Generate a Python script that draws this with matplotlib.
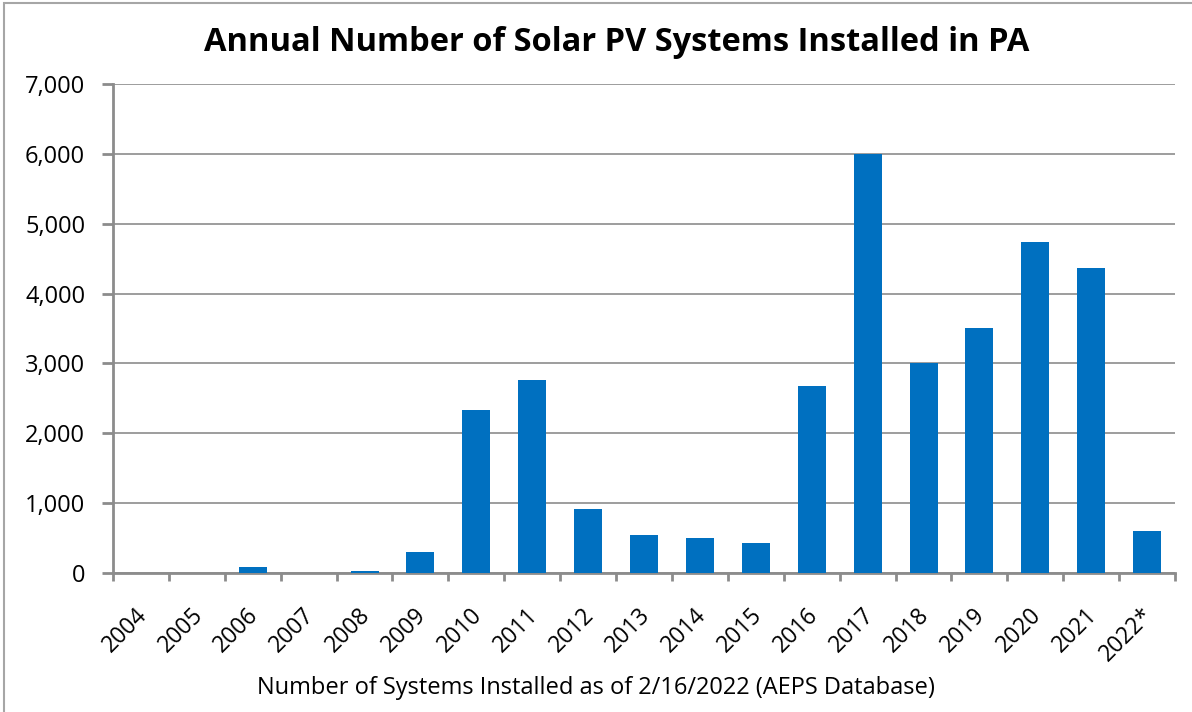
import numpy as np
import matplotlib.pyplot as plt
import matplotlib.transforms as mtransforms
from matplotlib.ticker import FuncFormatter
from matplotlib.patches import Rectangle

# annual solar PV installs in PA
years = ['2004', '2005', '2006', '2007', '2008', '2009', '2010', '2011', '2012', '2013',
         '2014', '2015', '2016', '2017', '2018', '2019', '2020', '2021', '2022*']
installs = [3, 2, 85, 4, 30, 300, 2330, 2760, 915, 545,
            500, 430, 2675, 5995, 3005, 3505, 4735, 4365, 600]

plt.rcParams['font.family'] = ['Open Sans', 'DejaVu Sans']

fig = plt.figure(figsize=(11.92, 7.12), dpi=100)
ax = fig.add_axes([0.0948, 0.1952, 0.891, 0.6868])

x = np.arange(len(years))
ax.bar(x, installs, width=0.5, color='#0070C0', zorder=3)

ax.set_xlim(-0.5, len(years) - 0.5)
ax.set_ylim(0, 7000)
ax.set_yticks(np.arange(0, 7001, 1000))
ax.yaxis.set_major_formatter(FuncFormatter(lambda v, p: f'{int(v):,}'))
ax.grid(axis='y', color='#8c8c8c', linewidth=1.2, zorder=0)

# category ticks sit between bars, labels under the bars
ax.set_xticks(np.arange(-0.5, len(years)), minor=False)
ax.set_xticklabels([])
ax.set_xticks(x, minor=True)
ax.set_xticklabels(years, minor=True, rotation=45, ha='right', va='top',
                   rotation_mode='anchor', fontsize=16.5)
ax.tick_params(axis='x', which='minor', length=0, pad=22)
ax.tick_params(axis='x', which='major', length=6, width=2, color='#8c8c8c', direction='out')
ax.tick_params(axis='y', length=8, width=2, color='#8c8c8c', labelsize=17, pad=12)

# nudge rotated labels a bit to the left
shift = mtransforms.ScaledTranslation(-6 / 100, 0, fig.dpi_scale_trans)
for lbl in ax.xaxis.get_minorticklabels():
    lbl.set_transform(lbl.get_transform() + shift)

for s in ['top', 'right']:
    ax.spines[s].set_visible(False)
for s in ['left', 'bottom']:
    ax.spines[s].set_color('#8c8c8c')
    ax.spines[s].set_linewidth(2)

fig.text(0.517, 0.941, 'Annual Number of Solar PV Systems Installed in PA', fontsize=23.5,
         fontweight='bold', ha='center', va='center')
fig.text(0.5, 0.0337, 'Number of Systems Installed as of 2/16/2022 (AEPS Database)',
         fontsize=17, ha='center', va='center')

fig.patches.append(Rectangle((0.0034, -0.01), 1.1, 1.006, transform=fig.transFigure,
                             fill=False, edgecolor='#a6a6a6', linewidth=1.5))

fig.savefig('out.png', dpi=100)
